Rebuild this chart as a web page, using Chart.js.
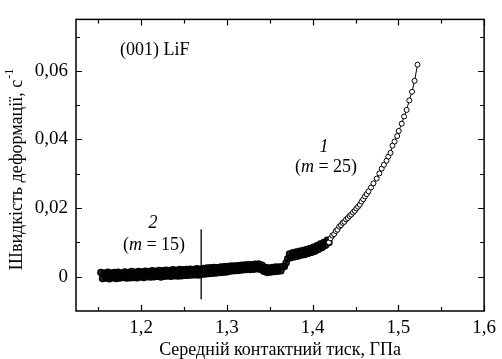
<!DOCTYPE html>
<html><head><meta charset="utf-8">
<script src="https://cdn.jsdelivr.net/npm/chart.js@4/dist/chart.umd.min.js"></script>
<style>html,body{margin:0;padding:0;background:#fff}canvas{display:block}</style>
</head><body><canvas id="c" width="502" height="359"></canvas>
<script>
// Dense low-rate band (curve 2 region and the step)
const bandX = [
1.153,1.155,1.157,1.159,1.161,1.163,1.165,1.167,1.169,1.171,
1.173,1.175,1.177,1.179,1.181,1.183,1.185,1.187,1.189,1.191,
1.193,1.195,1.197,1.199,1.201,1.203,1.205,1.207,1.209,1.211,
1.213,1.215,1.217,1.219,1.221,1.223,1.225,1.227,1.229,1.231,
1.233,1.235,1.237,1.239,1.241,1.243,1.245,1.247,1.249,1.251,
1.253,1.255,1.257,1.259,1.261,1.263,1.265,1.267,1.269,1.271,
1.273,1.275,1.277,1.279,1.281,1.283,1.285,1.287,1.289,1.291,
1.293,1.295,1.297,1.299,1.301,1.303,1.305,1.307,1.309,1.311,
1.313,1.315,1.317,1.319,1.321,1.323,1.325,1.327,1.329,1.331,
1.333,1.335,1.337,1.339,1.341,1.343,1.345,1.347,1.349,1.351,
1.353,1.355,1.357,1.359,1.361,1.363,1.365,
1.367,1.369,1.371,1.373,1.375,1.377,1.379,1.381,1.383,1.385,
1.387,1.389,1.391,1.393,1.395,1.397,1.399,1.401,1.403,1.405,
1.407,1.409,1.411,1.413,1.415,1.417,1.419];
const bandY = [
0.0012,-0.0005,0.0010,-0.0004,0.0013,-0.0006,0.0011,-0.0003,0.0012,-0.0005,
0.0013,-0.0004,0.0011,-0.0002,0.0014,-0.0004,0.0012,-0.0003,0.0015,-0.0002,
0.0013,-0.0003,0.0015,-0.0001,0.0014,-0.0002,0.0016,0.0000,0.0015,-0.0001,
0.0017,0.0000,0.0016,0.0001,0.0018,-0.0001,0.0017,0.0001,0.0019,0.0002,
0.0018,0.0001,0.0020,0.0003,0.0019,0.0002,0.0021,0.0003,0.0020,0.0004,
0.0021,0.0004,0.0022,0.0005,0.0021,0.0006,0.0023,0.0005,0.0022,0.0007,
0.0024,0.0008,0.0025,0.0009,0.0026,0.0010,0.0027,0.0011,0.0026,0.0012,
0.0028,0.0013,0.0029,0.0014,0.0030,0.0016,0.0031,0.0017,0.0031,0.0018,
0.0032,0.0019,0.0033,0.0020,0.0034,0.0021,0.0035,0.0021,0.0035,0.0022,
0.0036,0.0023,0.0037,0.0022,0.0033,0.0016,0.0027,0.0012,0.0025,0.0014,
0.0027,0.0015,0.0028,0.0016,0.0028,0.0017,0.0029,
0.0030,0.0040,0.0052,0.0066,0.0056,0.0070,0.0058,0.0072,0.0060,0.0074,
0.0063,0.0076,0.0065,0.0079,0.0068,0.0082,0.0071,0.0086,0.0075,0.0090,
0.0080,0.0095,0.0085,0.0100,0.0092,0.0106,0.0100];
// Rising branch (curve 1)
const curveX = [1.419,1.421,1.423,1.425,1.427,1.429,1.431,1.433,1.435,1.437,1.439,1.441,1.443,1.445,1.447,1.449,1.451,1.453,1.455,1.457,1.459,1.461,1.463,1.4651,1.4681,1.4709,1.4747,1.4778,1.4805,1.4831,1.4862,1.4882,1.4908,1.4931,1.4955,1.4986,1.5004,1.5039,1.5066,1.5096,1.5127,1.5159,1.5189,1.5223];
const curveY = [0.0100,0.0112,0.0120,0.0124,0.0133,0.0137,0.0146,0.0150,0.0157,0.0160,0.0167,0.0171,0.0177,0.0181,0.0187,0.0192,0.0199,0.0204,0.0210,0.0219,0.0226,0.0234,0.0241,0.0249,0.0260,0.0272,0.0286,0.0301,0.0315,0.0326,0.0338,0.0350,0.0361,0.0382,0.0394,0.0410,0.0425,0.0446,0.0467,0.0486,0.0514,0.0539,0.0571,0.0618];
const markerX = [1.27, 1.27];
const markerY = [-0.0066, 0.0138];
const xTicks = [1.2, 1.3, 1.4, 1.5, 1.6];
const xTickLabels = ['1,2', '1,3', '1,4', '1,5', '1,6'];
const xMinor = [1.15, 1.25, 1.35, 1.45, 1.55];
const yTicks = [0, 0.02, 0.04, 0.06];
const yTickLabels = ['0', '0,02', '0,04', '0,06'];
const yMinor = [0.01, 0.03, 0.05, 0.07];

const FONT = '"Liberation Serif", "Times New Roman", serif';
const pts = (xs, ys) => xs.map((x, i) => ({x: x, y: ys[i]}));

const decor = {
  id: 'decor',
  afterDatasetsDraw(chart) {
    const {ctx, chartArea: a, scales: {x, y}} = chart;
    ctx.save();
    ctx.strokeStyle = '#000';
    ctx.lineWidth = 1.5;
    ctx.strokeRect(a.left, a.top, a.right - a.left, a.bottom - a.top);
    ctx.lineWidth = 1.2;
    const tick = (v, len, isX) => {
      ctx.beginPath();
      if (isX) {
        const p = Math.round(x.getPixelForValue(v)) + 0.5;
        ctx.moveTo(p, a.bottom); ctx.lineTo(p, a.bottom - len);
        ctx.moveTo(p, a.top); ctx.lineTo(p, a.top + len);
      } else {
        const p = Math.round(y.getPixelForValue(v)) + 0.5;
        ctx.moveTo(a.left, p); ctx.lineTo(a.left + len, p);
        ctx.moveTo(a.right, p); ctx.lineTo(a.right - len, p);
      }
      ctx.stroke();
    };
    xTicks.forEach(v => tick(v, 6, true));
    xMinor.forEach(v => tick(v, 4, true));
    yTicks.forEach(v => tick(v, 6, false));
    yMinor.forEach(v => tick(v, 4, false));

    ctx.fillStyle = '#000';
    ctx.textBaseline = 'middle';
    ctx.font = '18px ' + FONT;
    ctx.textAlign = 'left';
    ctx.fillText('(001) LiF', 120, 50);
    const mLabel = (cx, cy, num) => {
      const parts = [['(', 'n'], ['m', 'i'], [' = ' + num + ')', 'n']];
      let w = 0;
      parts.forEach(p => { ctx.font = (p[1] === 'i' ? 'italic ' : '') + '18px ' + FONT; w += ctx.measureText(p[0]).width; });
      let xx = cx - w / 2;
      ctx.textAlign = 'left';
      parts.forEach(p => { ctx.font = (p[1] === 'i' ? 'italic ' : '') + '18px ' + FONT; ctx.fillText(p[0], xx, cy); xx += ctx.measureText(p[0]).width; });
    };
    ctx.textAlign = 'center';
    ctx.font = 'italic 18px ' + FONT;
    ctx.fillText('1', 324, 147);
    mLabel(326, 167, '25');
    ctx.textAlign = 'center';
    ctx.font = 'italic 18px ' + FONT;
    ctx.fillText('2', 153, 223);
    mLabel(154, 245, '15');
    ctx.textAlign = 'center';
    ctx.font = '18px ' + FONT;
    ctx.fillText('Середній контактний тиск, ГПа', (a.left + a.right) / 2, 350);
    ctx.translate(17, 170);
    ctx.rotate(-Math.PI / 2);
    ctx.font = '18px ' + FONT;
    const main = 'Швидкість деформації, с';
    const wm = ctx.measureText(main).width;
    ctx.font = '12px ' + FONT;
    const ws = ctx.measureText('-1').width;
    const tot = wm + ws;
    ctx.textAlign = 'left';
    ctx.font = '18px ' + FONT;
    ctx.fillText(main, -tot / 2, 0);
    ctx.font = '12px ' + FONT;
    ctx.fillText('-1', -tot / 2 + wm + 1, -7);
    ctx.restore();
  }
};

new Chart(document.getElementById('c'), {
  type: 'scatter',
  data: {
    datasets: [
      { data: pts(markerX, markerY), showLine: true, borderColor: '#000', borderWidth: 1.3, pointRadius: 0 },
      { data: pts(curveX, curveY), showLine: true, borderColor: '#000', borderWidth: 1, pointRadius: 2.5, pointBorderWidth: 1, pointBorderColor: '#000', pointBackgroundColor: '#fff' },
      { data: pts(bandX, bandY), showLine: true, borderColor: '#000', borderWidth: 1.5, pointRadius: 3, pointBorderWidth: 1.5, pointBorderColor: '#000', pointBackgroundColor: 'rgba(0,0,0,0.8)' }
    ]
  },
  options: {
    responsive: false,
    animation: false,
    devicePixelRatio: 1,
    layout: { padding: { top: 8, right: 13, left: 0, bottom: 0 } },
    plugins: { legend: { display: false }, tooltip: { enabled: false } },
    scales: {
      x: {
        type: 'linear', min: 1.124, max: 1.6,
        grid: { display: false, drawTicks: false },
        border: { display: false },
        afterBuildTicks: s => { s.ticks = xTicks.map(v => ({ value: v })); },
        afterFit: s => { s.height = 48; },
        ticks: { color: '#000', font: { family: FONT, size: 19 }, padding: 6, maxRotation: 0,
          callback: v => xTickLabels[xTicks.indexOf(v)] }
      },
      y: {
        type: 'linear', min: -0.01, max: 0.075,
        grid: { display: false, drawTicks: false },
        border: { display: false },
        afterBuildTicks: s => { s.ticks = yTicks.map(v => ({ value: v })); },
        afterFit: s => { s.width = 76; },
        ticks: { color: '#000', font: { family: FONT, size: 19 }, padding: 8,
          callback: v => yTickLabels[yTicks.indexOf(v)] }
      }
    }
  },
  plugins: [decor]
});
</script>
</body></html>
